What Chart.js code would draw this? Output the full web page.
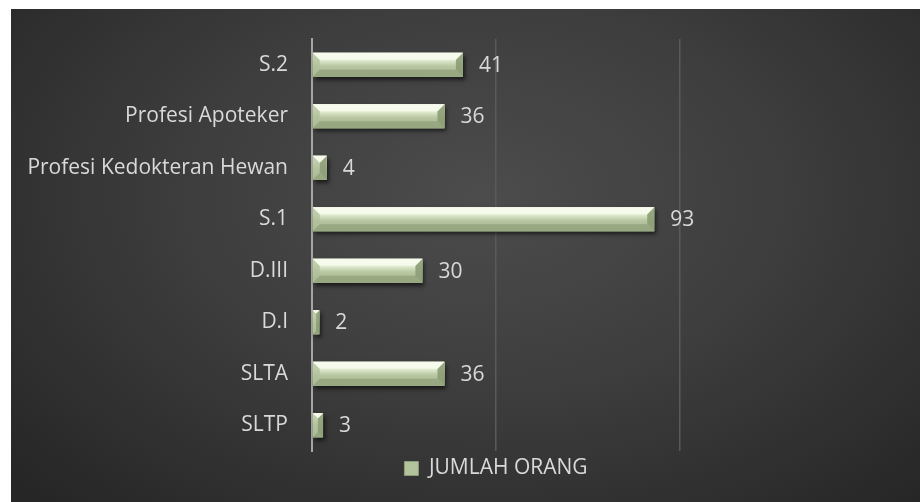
<!DOCTYPE html>
<html>
<head>
<meta charset="utf-8">
<script src="https://cdn.jsdelivr.net/npm/chart.js"></script>
<style>
html, body { margin: 0; padding: 0; background: #fff; }
#wrap {
    position: absolute; left: 11px; top: 9px; width: 909px; height: 493px;
    background: radial-gradient(ellipse 70% 85% at 52% 38%, #4c4c4c 0%, #3e3e3e 45%, #262626 100%);
}
</style>
</head>
<body>
<div id="wrap"><canvas id="chart"></canvas></div>
<script>
const categories = ['S.2', 'Profesi Apoteker', 'Profesi Kedokteran Hewan', 'S.1', 'D.III', 'D.I', 'SLTA', 'SLTP'];
const jumlahOrang = [41, 36, 4, 93, 30, 2, 36, 3];
const seriesLabel = 'JUMLAH ORANG';
const xMin = 0;
const xMax = 100;
const xStep = 50;

const textColor = '#d9d9d9';
const fontFamily = "'Open Sans', sans-serif";
const fontSize = 21;

// bevel look of the bars, drawn over the plain fill
const bevelBars = {
    id: 'bevelBars',
    beforeDatasetsDraw(chart) {
        const ctx = chart.ctx;
        const meta = chart.getDatasetMeta(0);
        ctx.save();
        meta.data.forEach(bar => {
            const p = bar.getProps(['x', 'y', 'base', 'height'], true);
            const L = Math.min(p.base, p.x), R = Math.max(p.base, p.x);
            const T = p.y - p.height / 2;
            ctx.shadowColor = 'rgba(0,0,0,0.6)';
            ctx.shadowBlur = 4;
            ctx.shadowOffsetX = 2;
            ctx.shadowOffsetY = 3;
            ctx.fillStyle = '#1e1e1e';
            ctx.fillRect(L, T, R - L, p.height);
        });
        ctx.restore();
    },
    afterDatasetsDraw(chart) {
        const ctx = chart.ctx;
        const meta = chart.getDatasetMeta(0);
        ctx.save();
        meta.data.forEach((bar, i) => {
            const p = bar.getProps(['x', 'y', 'base', 'height'], true);
            const L = Math.min(p.base, p.x), R = Math.max(p.base, p.x);
            const T = p.y - p.height / 2, B = p.y + p.height / 2;
            const b = Math.min(7, (R - L) / 2);

            const g = ctx.createLinearGradient(0, T, 0, B);
            g.addColorStop(0, '#f4faea');
            g.addColorStop(0.3, '#e3edd3');
            g.addColorStop(0.55, '#b9c8a3');
            g.addColorStop(1, '#9eae88');
            ctx.fillStyle = g;
            ctx.fillRect(L, T, R - L, B - T);

            // left face
            ctx.fillStyle = 'rgba(176,192,154,0.75)';
            ctx.beginPath();
            ctx.moveTo(L, T); ctx.lineTo(L + b, T + b); ctx.lineTo(L + b, B - b); ctx.lineTo(L, B);
            ctx.closePath(); ctx.fill();
            // right face
            ctx.fillStyle = 'rgba(140,157,118,0.9)';
            ctx.beginPath();
            ctx.moveTo(R, T); ctx.lineTo(R - b, T + b); ctx.lineTo(R - b, B - b); ctx.lineTo(R, B);
            ctx.closePath(); ctx.fill();
            // top face
            ctx.fillStyle = 'rgba(248,252,238,0.85)';
            ctx.beginPath();
            ctx.moveTo(L, T); ctx.lineTo(R, T); ctx.lineTo(R - b, T + b); ctx.lineTo(L + b, T + b);
            ctx.closePath(); ctx.fill();
            // bottom face
            ctx.fillStyle = 'rgba(150,166,128,0.9)';
            ctx.beginPath();
            ctx.moveTo(L, B); ctx.lineTo(R, B); ctx.lineTo(R - b, B - b); ctx.lineTo(L + b, B - b);
            ctx.closePath(); ctx.fill();

            // value label
            ctx.fillStyle = textColor;
            ctx.font = fontSize + 'px ' + fontFamily;
            ctx.textAlign = 'left';
            ctx.textBaseline = 'middle';
            ctx.fillText(String(jumlahOrang[i]), R + 16, p.y + 1);
        });
        ctx.restore();
    }
};

new Chart(document.getElementById('chart'), {
    type: 'bar',
    data: {
        labels: categories,
        datasets: [{
            label: seriesLabel,
            data: jumlahOrang,
            backgroundColor: '#b3c49c',
            borderWidth: 0,
            categoryPercentage: 1,
            barPercentage: 0.47
        }]
    },
    options: {
        indexAxis: 'y',
        responsive: true,
        maintainAspectRatio: false,
        animation: false,
        layout: { padding: { top: 30, right: 240, left: 0, bottom: 13 } },
        scales: {
            x: {
                min: xMin,
                max: xMax,
                ticks: { display: false, stepSize: xStep },
                border: { display: false },
                grid: {
                    drawTicks: false,
                    lineWidth: 1.5,
                    color: ctx => ctx.tick && ctx.tick.value === 0 ? 'rgba(0,0,0,0)' : '#5a5a5a'
                },
                afterFit: scale => { scale.height = 0; }
            },
            y: {
                ticks: {
                    color: textColor,
                    padding: 24,
                    font: { family: fontFamily, size: fontSize }
                },
                grid: { display: false, drawTicks: false },
                border: { display: true, color: '#a6a6a6', width: 2 },
                afterFit: scale => {
                    scale.width = 301;
                    scale.paddingTop = 0;
                    scale.paddingBottom = 0;
                }
            }
        },
        plugins: {
            tooltip: { enabled: false },
            legend: {
                position: 'bottom',
                fullSize: false,
                labels: {
                    color: textColor,
                    boxWidth: 14,
                    boxHeight: 14,
                    padding: 7,
                    font: { family: fontFamily, size: fontSize },
                    generateLabels: () => [{
                        text: seriesLabel,
                        fillStyle: '#b3c49c',
                        strokeStyle: '#8c9d76',
                        lineWidth: 1,
                        fontColor: textColor,
                        hidden: false,
                        datasetIndex: 0
                    }]
                }
            }
        }
    },
    plugins: [bevelBars]
});
</script>
</body>
</html>
